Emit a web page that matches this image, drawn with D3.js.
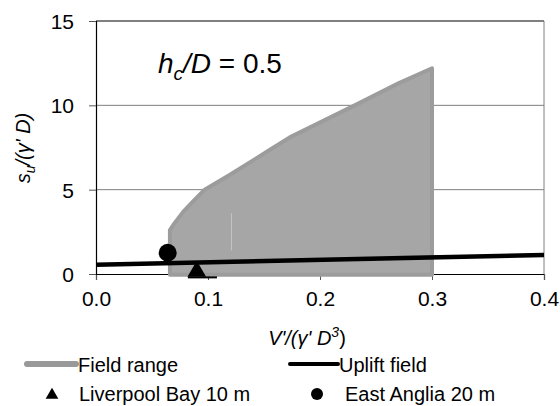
<!DOCTYPE html>
<html><head><meta charset="utf-8">
<script src="https://cdn.jsdelivr.net/npm/d3@7"></script>
<style>
body{margin:0;background:#fff;}
text{font-family:"Liberation Sans",Arial,sans-serif;fill:#000;}
</style></head>
<body><svg id="c" width="560" height="406"></svg>
<script>
// data
const xTicks = [0, 0.1, 0.2, 0.3, 0.4];
const yTicks = [0, 5, 10, 15];
const fieldRangeX = [0.066, 0.066, 0.070, 0.078, 0.088, 0.097, 0.120, 0.155, 0.173, 0.231, 0.270, 0.300, 0.300];
const fieldRangeY = [-0.05, 2.6, 3.0, 3.7, 4.4, 5.0, 5.9, 7.35, 8.1, 10.0, 11.3, 12.2, -0.05];
const upliftX = [0, 0.4];
const upliftY = [0.55, 1.13];
const liverpoolX = [0.09];
const liverpoolY = [0.15];
const liverpoolBaseX = [0.082, 0.108];
const liverpoolBaseY = [-0.2, -0.2];
const eastAngliaX = [0.064];
const eastAngliaY = [1.26];

const svg = d3.select("#c");
const x = d3.scaleLinear().domain([0, 0.4]).range([96, 544]);
const y = d3.scaleLinear().domain([0, 15]).range([274, 21]);

// gridlines
svg.append("g").selectAll("line").data([5, 10]).join("line")
  .attr("x1", x(0)).attr("x2", x(0.4)).attr("y1", d => y(d)).attr("y2", d => y(d))
  .attr("stroke", "#7f7f7f").attr("stroke-width", 1);
// top & right border
svg.append("line").attr("x1", x(0)).attr("x2", x(0.4)).attr("y1", y(15)).attr("y2", y(15))
  .attr("stroke", "#808080").attr("stroke-width", 2);
svg.append("line").attr("x1", x(0.4)).attr("x2", x(0.4)).attr("y1", y(15)).attr("y2", y(0))
  .attr("stroke", "#808080").attr("stroke-width", 1);

// axes
const xAxis = svg.append("g").attr("transform", `translate(0,${y(0)})`)
  .call(d3.axisBottom(x).tickValues(xTicks).tickFormat(d3.format(".1f")).tickSize(6).tickPadding(6));
const yAxis = svg.append("g").attr("transform", `translate(${x(0)},0)`)
  .call(d3.axisLeft(y).tickValues(yTicks).tickFormat(d3.format("d")).tickSize(7).tickPadding(15));
[xAxis, yAxis].forEach(a => {
  a.select(".domain").attr("stroke", "#000").attr("stroke-width", 1.2);
  a.selectAll(".tick line").attr("stroke", "#555");
  a.selectAll("text").attr("font-size", 21).attr("font-family", "Liberation Sans, Arial, sans-serif");
});
xAxis.selectAll("text").attr("dy", "0.95em");
yAxis.selectAll(".tick text").attr("dy", "0.36em");

// field range
const pts = fieldRangeX.map((d, i) => [x(d), y(fieldRangeY[i])]);
svg.append("path").attr("d", d3.line()(pts) + "Z")
  .attr("fill", "#a6a6a6").attr("stroke", "#9c9c9c").attr("stroke-width", 4)
  .attr("stroke-linejoin", "round");
svg.append("line").attr("x1", x(0.121)).attr("x2", x(0.121)).attr("y1", y(1.4)).attr("y2", y(3.6))
  .attr("stroke", "#c4c4c4").attr("stroke-width", 1);

// uplift line
svg.append("path").attr("d", d3.line()(upliftX.map((d, i) => [x(d), y(upliftY[i])])))
  .attr("stroke", "#000").attr("stroke-width", 4.5).attr("fill", "none");

// Liverpool Bay
svg.append("path").attr("d", d3.line()(liverpoolBaseX.map((d, i) => [x(d), y(liverpoolBaseY[i])])))
  .attr("stroke", "#000").attr("stroke-width", 2);
svg.selectAll(".tri").data(liverpoolX).join("path")
  .attr("d", d3.symbol(d3.symbolTriangle, 150)())
  .attr("transform", (d, i) => `translate(${x(d)},${y(liverpoolY[i])})`).attr("fill", "#000");
// East Anglia
svg.selectAll(".circ").data(eastAngliaX).join("circle")
  .attr("cx", d => x(d)).attr("cy", (d, i) => y(eastAngliaY[i])).attr("r", 9).attr("fill", "#000");

// annotation
const ann = svg.append("text").attr("x", 158).attr("y", 73).attr("font-size", 28);
ann.append("tspan").attr("font-style", "italic").text("h");
ann.append("tspan").attr("font-style", "italic").attr("font-size", 19).attr("dy", 7).text("c");
ann.append("tspan").attr("font-style", "italic").attr("dy", -7).text("/D");
ann.append("tspan").text(" = 0.5");

// axis titles
const xt = svg.append("text").attr("x", 307).attr("y", 345).attr("text-anchor", "middle")
  .attr("font-size", 20).attr("font-style", "italic");
xt.append("tspan").text("V'/(γ' D");
xt.append("tspan").attr("font-size", 14).attr("dy", -8).text("3");
xt.append("tspan").attr("dy", 8).attr("font-style", "normal").text(")");

const yt = svg.append("text").attr("transform", "translate(30,148) rotate(-90)")
  .attr("text-anchor", "middle").attr("font-size", 20).attr("font-style", "italic");
yt.append("tspan").text("s");
yt.append("tspan").attr("font-size", 14).attr("dy", 5).text("u");
yt.append("tspan").attr("dy", -5).text("/(γ' D)");

// legend
const lg = svg.append("g");
lg.append("line").attr("x1", 27).attr("x2", 76).attr("y1", 364).attr("y2", 364)
  .attr("stroke", "#999999").attr("stroke-width", 6).attr("stroke-linecap", "round");
lg.append("text").attr("x", 78).attr("y", 372).attr("font-size", 20).text("Field range");
lg.append("line").attr("x1", 290).attr("x2", 338).attr("y1", 364).attr("y2", 364)
  .attr("stroke", "#000").attr("stroke-width", 4).attr("stroke-linecap", "round");
lg.append("text").attr("x", 339).attr("y", 372).attr("font-size", 20).text("Uplift field");
lg.append("path").attr("d", d3.symbol(d3.symbolTriangle, 70)()).attr("transform", "translate(52,395)").attr("fill", "#000");
lg.append("text").attr("x", 79).attr("y", 401).attr("font-size", 20).text("Liverpool Bay 10 m");
lg.append("circle").attr("cx", 317).attr("cy", 394).attr("r", 6).attr("fill", "#000");
lg.append("text").attr("x", 345).attr("y", 401).attr("font-size", 20).text("East Anglia 20 m");
</script></body></html>
